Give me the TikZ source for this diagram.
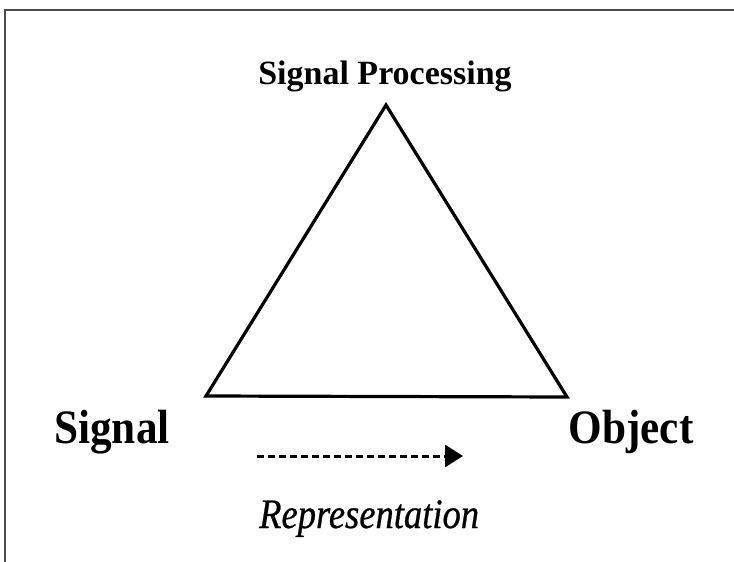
\documentclass[tikz,border=0pt]{standalone}
\usepackage{fontspec}
\setmainfont{Liberation Serif}
\newfontfamily\condbold[FakeStretch=0.9]{Liberation Serif Bold}
\newfontfamily\condital[FakeStretch=0.87,FakeBold=0.6]{Liberation Serif Italic}
\usetikzlibrary{arrows.meta}
\begin{document}
\begin{tikzpicture}[x=1pt,y=-1pt,
  frameline/.style={draw=black!70,line width=1.4pt},
  edge/.style={draw=black,line width=3.2pt,line join=miter},
  bigl/.style={font=\condbold\fontsize{48}{48}\selectfont,anchor=base,inner sep=0pt},
  topl/.style={font=\bfseries\fontsize{34}{34}\selectfont,anchor=base,inner sep=0pt},
  itl/.style={font=\condital\fontsize{42}{42}\selectfont,anchor=base west,inner sep=0pt},
  reparrow/.style={draw=black,line width=3pt,dash pattern=on 7pt off 4pt,-{Triangle[length=18pt,width=22pt]}}]
\useasboundingbox (0,0) rectangle (734,562);
\coordinate (fa) at (734,10);
\coordinate (fb) at (5,10);
\coordinate (fc) at (5,562);
\draw[frameline] (fa) -- (fb) -- (fc);
\coordinate (apex) at (386,105);
\coordinate (bl) at (206,396);
\coordinate (br) at (567,397);
\draw[edge] (apex) -- (bl) -- (br) -- cycle;
\node[topl] (sp) at (385,84) {Signal Processing};
\node[bigl] (sig) at (112,443) {Signal};
\node[bigl] (obj) at (631,443) {Object};
\coordinate (as) at (257,456);
\coordinate (ae) at (463,456);
\draw[reparrow] (as) -- (ae);
\node[itl] (rep) at (259,528) {Representation};
\end{tikzpicture}
\end{document}
